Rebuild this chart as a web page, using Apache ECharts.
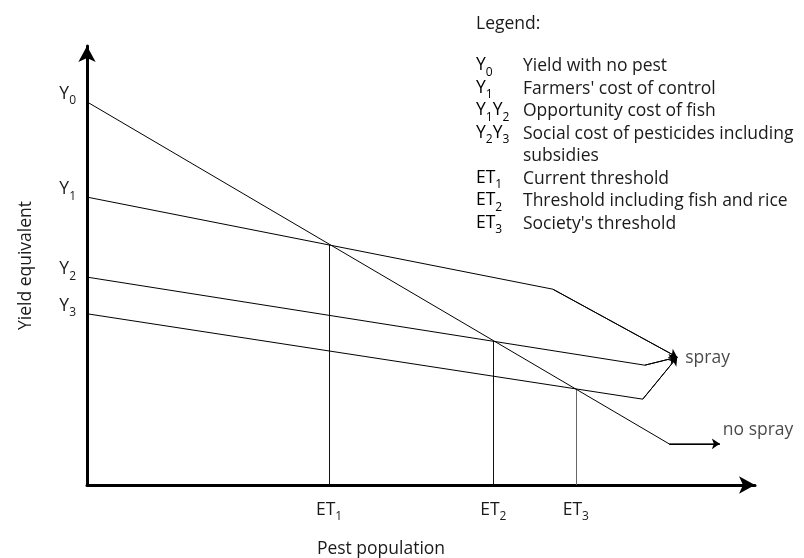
<!DOCTYPE html>
<html>
<head>
<meta charset="utf-8">
<title>Economic threshold</title>
<script src="https://cdn.jsdelivr.net/npm/echarts@6/dist/echarts.min.js"></script>
<style>
  html, body { margin: 0; padding: 0; background: #fff; }
  #chart { width: 804px; height: 558px; }
</style>
</head>
<body>
<div id="chart"></div>
<script>
  // yield levels marked on the y axis
  const yNames = ['Y_0', 'Y_1', 'Y_2', 'Y_3'];
  const yLevels = [85.7, 64.4, 46.5, 38.3];

  // thresholds marked on the x axis, and where their drop lines stop
  const etNames = ['ET_1', 'ET_2', 'ET_3'];
  const etValues = [35.8, 60.1, 72.3];
  const etTops = [53.7, 32.2, 21.5];

  // the four lines, each ends with an arrow
  const lineY0 = [[0, 85.7], [86.1, 9.2], [93.6, 9.2]];
  const lineY1 = [[0, 64.4], [68.9, 43.8], [87.3, 28.6]];
  const lineY2 = [[0, 46.5], [82.5, 26.8], [87.3, 28.6]];
  const lineY3 = [[0, 38.3], [82.2, 19.2], [87.3, 28.6]];
  const endLabels = ['spray', 'no spray'];

  const legendKeys = ['Y_0', 'Y_1', 'Y_1Y_2', 'Y_2Y_3', '', 'ET_1', 'ET_2', 'ET_3'];
  const legendTexts = [
    'Yield with no pest',
    "Farmers' cost of control",
    'Opportunity cost of fish',
    'Social cost of pesticides including',
    'subsidies',
    'Current threshold',
    'Threshold including fish and rice',
    "Society's threshold"
  ];

  const FONT = '"Open Sans", "Noto Sans", sans-serif';
  const FS = 17.5;
  const INK = '#1a1a1a';

  // "Y_1" -> rich text with a subscript
  function subText(s) {
    return s.replace(/([A-Z]+)_(\d)/g, '{b|$1}{s|$2}');
  }
  const subRich = {
    b: { fontSize: FS, lineHeight: 20, verticalAlign: 'top', color: INK, fontFamily: FONT },
    s: { fontSize: 12, lineHeight: 12, padding: [10, 0, 0, 0], verticalAlign: 'top', color: INK, fontFamily: FONT }
  };

  let chart = echarts.init(document.getElementById('chart'));

  let paths = [lineY0, lineY1, lineY2, lineY3];
  let pathSeries = paths.map(function (p) {
    return {
      type: 'line',
      data: p,
      showSymbol: false,
      symbol: 'none',
      silent: true,
      lineStyle: { color: '#000', width: 1 },
      z: 3
    };
  });

  // arrow heads on the last segment of every line
  let arrowData = paths.map(function (p) {
    return { coords: [p[p.length - 2], p[p.length - 1]] };
  });

  let dropData = etValues.map(function (x, i) {
    return {
      coords: [[x, 0], [x, etTops[i]]],
      lineStyle: { color: i === 2 ? '#666' : '#111' }
    };
  });

  let option = {
    backgroundColor: '#fff',
    animation: false,
    textStyle: { fontFamily: FONT, color: INK },
    grid: { left: 87, right: 49, top: 46, bottom: 73, outerBoundsMode: 'none' },
    xAxis: {
      type: 'value',
      min: 0,
      max: 98.8,
      name: 'Pest population',
      nameLocation: 'middle',
      nameGap: 55,
      nameTextStyle: { fontSize: FS, color: INK, fontFamily: FONT, padding: [0, 80, 0, 0] },
      axisLine: {
        onZero: false,
        symbol: ['none', 'arrow'],
        symbolSize: [13, 16],
        lineStyle: { color: '#000', width: 3 }
      },
      axisTick: { show: false },
      splitLine: { show: false },
      axisLabel: {
        customValues: etValues,
        margin: 16,
        formatter: function (v) {
          let i = etValues.indexOf(v);
          return i < 0 ? '' : subText(etNames[i]);
        },
        rich: subRich
      }
    },
    yAxis: {
      type: 'value',
      min: 0,
      max: 98.2,
      name: 'Yield equivalent',
      nameLocation: 'middle',
      nameGap: 52,
      nameTextStyle: { fontSize: FS, color: INK, fontFamily: FONT },
      axisLine: {
        onZero: false,
        symbol: ['none', 'arrow'],
        symbolSize: [13, 16],
        lineStyle: { color: '#000', width: 3 }
      },
      axisTick: { show: false },
      splitLine: { show: false },
      axisLabel: {
        customValues: yLevels,
        margin: 11,
        padding: [0, 0, 14, 0],
        formatter: function (v) {
          let i = yLevels.indexOf(v);
          return i < 0 ? '' : subText(yNames[i]);
        },
        rich: subRich
      }
    },
    series: pathSeries.concat([
      {
        type: 'lines',
        coordinateSystem: 'cartesian2d',
        silent: true,
        symbol: ['none', 'arrow'],
        symbolSize: 8,
        lineStyle: { color: '#000', width: 1, opacity: 1 },
        data: arrowData,
        z: 4
      },
      {
        type: 'lines',
        coordinateSystem: 'cartesian2d',
        silent: true,
        lineStyle: { width: 1, opacity: 1 },
        data: dropData,
        z: 2
      },
      {
        type: 'scatter',
        symbolSize: 0,
        silent: true,
        data: [
          { value: lineY1[2], label: { formatter: endLabels[0], offset: [0, 1] } },
          { value: lineY0[2], label: { formatter: endLabels[1], offset: [-5, -14] } }
        ],
        label: {
          show: true,
          position: 'right',
          distance: 8,
          fontSize: FS,
          color: INK,
          fontFamily: FONT
        }
      }
    ]),
    graphic: [
      {
        type: 'text',
        left: 476,
        top: 15,
        style: { text: 'Legend:', font: FS + 'px ' + FONT, fill: INK }
      }
    ].concat(legendTexts.map(function (t, i) {
      let cy = 66.5 + i * 22.5;
      return {
        type: 'group',
        children: [
          {
            type: 'text',
            x: 476,
            y: cy - 10,
            style: {
              text: subText(legendKeys[i]),
              rich: subRich,
              verticalAlign: 'top'
            }
          },
          {
            type: 'text',
            x: 523,
            y: cy,
            style: { text: t, font: FS + 'px ' + FONT, fill: INK, verticalAlign: 'middle' }
          }
        ]
      };
    }))
  };

  chart.setOption(option);
</script>
</body>
</html>
